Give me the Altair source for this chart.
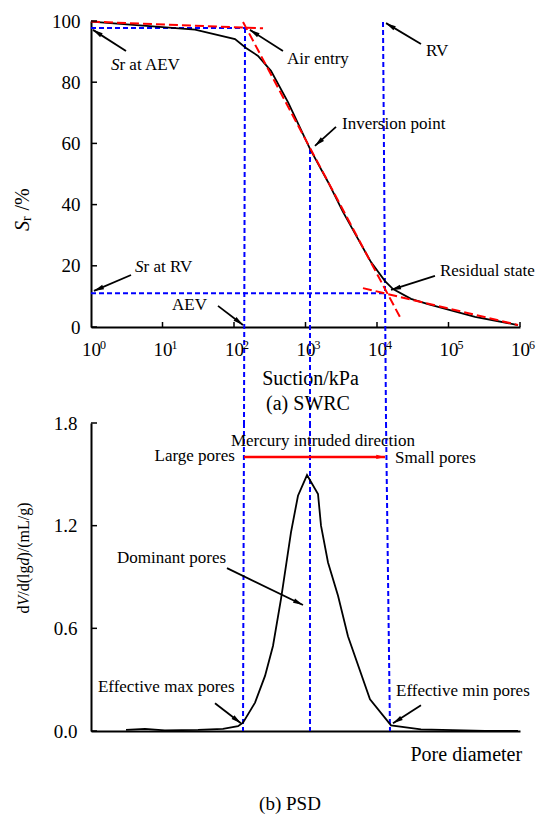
import math
import altair as alt
import pandas as pd

# ---------------- data ----------------
# SWRC (suction kPa, degree of saturation %)
suction = [1, 28.5, 103.3, 147.2, 216.8, 328.9, 568.9, 1156, 2065, 3342, 5420,
           8241, 12940, 16750, 29920, 51640, 235000, 937600]
sr = [99.8, 97.2, 94.1, 91.2, 88.6, 83.7, 73.5, 58.2, 47.4, 37.6, 28.8,
      21.2, 15.0, 12.4, 9.2, 7.5, 3.3, 0.65]

# red tangent lines
tan_id = ["sat", "sat", "desat", "desat", "res", "res"]
tan_x = [1, 254.7, 133.7, 21680, 6368, 937600]
tan_y = [99.8, 97.6, 99.7, 2.6, 12.7, 0.65]

# PSD (pore position on the shared log axis, dV/d(lgd))
pore_pos = [3.09, 5.69, 10.8, 31.4, 70.1, 113.8, 133.7, 196.8, 271.6, 350.8,
            453.9, 484.2, 626.6, 785.2, 1050, 1496, 1648, 2065, 2851, 3926,
            7980, 15700, 41210, 323600, 937600]
dv = [0.006, 0.012, 0.004, 0.006, 0.013, 0.028, 0.049, 0.166, 0.322, 0.497,
      0.771, 0.848, 1.161, 1.375, 1.496, 1.385, 1.200, 0.985, 0.790, 0.554,
      0.185, 0.033, 0.010, 0.001, 0.0]

# characteristic points
AEV_TOP, AEV_MID, AEV_BOT = 142.6, 138.0, 133.6
INV = 1156
RV_TOP, RV_MID, RV_BOT = 12130, 13370, 15200
RV_H = 12730
SR_AEV, SR_INV, SR_RV, SR_TOPLINE = 97.7, 58.2, 11.0, 99.7

x_ticks = [1, 10, 100, 1000, 10000, 100000, 1000000]
x_exps = ["0", "1", "2", "3", "4", "5", "6"]
y_ticks_top = [0, 20, 40, 60, 80, 100]
y_ticks_bot = [0.0, 0.6, 1.2, 1.8]

# annotations, top panel
top_arrow_x1 = [3.087, 484, 41220, 2670, 3.63, 59.7, 64700]
top_arrow_y1 = [90.2, 90.2, 92.5, 65.4, 17.0, 6.9, 16.7]
top_arrow_x2 = [1.066, 167, 13370, 1358, 1.10, 133.6, 15700]
top_arrow_y2 = [97.1, 97.1, 99.3, 59.2, 11.8, 0.65, 12.1]
top_labels = ["Air entry", "RV", "Inversion point", "AEV", "Residual state"]
top_label_x = [551, 48400, 3240, 13.6, 76000]
top_label_y = [87.6, 90.2, 66.3, 7.2, 18.3]
sr_label_rest = ["r at AEV", "r at RV"]
sr_label_x = [2.50, 5.42]
sr_label_y = [85.6, 19.6]

# annotations, bottom panel
bot_arrow_x1 = [79.8, 54.2, 41220]
bot_arrow_y1 = [0.952, 0.162, 0.150]
bot_arrow_x2 = [923, 125, 16750]
bot_arrow_y2 = [0.736, 0.045, 0.045]
red_arrow = {"x": [138.0], "y": [1.602], "x2": [12940], "y2": [1.602]}
bot_labels = ["Mercury intruded direction", "Large pores", "Small pores",
              "Dominant pores", "Effective max pores", "Effective min pores"]
bot_label_x = [1757, 103, 17860, 2.31, 1.25, 18450]
bot_label_y = [1.695, 1.607, 1.595, 1.011, 0.256, 0.232]
bot_label_align = ["center", "right", "left", "left", "left", "left"]

# ---------------- layout / style ----------------
W = 429
H_TOP = 306
H_BOT = 308
GAP = 96
FONT = "Liberation Serif"
BLUE = "#0000ff"
RED = "#ff0000"
ARROW = "M0,0L-0.6,2.5L0.6,2.5Z"
TICK = 5

GAP_TOP = -GAP / (H_TOP / 100.0)          # extends blue rules into the gap
TICK_X_LEN = 10 ** (6 * 6 / W)            # 6 px inward tick on log axis


def xs(v):
    return math.log10(v) / 6 * W


def head_angle(x1, y1, x2, y2, ymax, h):
    dx = xs(x2) - xs(x1)
    dy = -(y2 - y1) / ymax * h
    return math.degrees(math.atan2(dx, -dy)) % 360


X_SCALE = alt.Scale(type="log", domain=[1, 1e6], nice=False)
AX_TOP = alt.Axis(values=x_ticks, labelExpr="'10'", labelFlush=False,
                  labelOverlap=False, labelPadding=13, title="Suction/kPa",
                  titleX=219, titleY=51, titleBaseline="middle", titleAlign="center")
AX_BOT = alt.Axis(labels=False, title="Pore diameter", titleX=319, titleY=23,
                  titleAlign="left", titleBaseline="middle")
AY_TOP = alt.Axis(values=y_ticks_top, format="d", labelPadding=11, title=None)
AY_BOT = alt.Axis(values=y_ticks_bot, format=".1f", labelPadding=14, title=None)


def XT(f):
    return alt.X(f, type="quantitative", scale=X_SCALE, axis=AX_TOP)


def YT(f):
    return alt.Y(f, type="quantitative", scale=alt.Scale(domain=[0, 100], nice=False), axis=AY_TOP)


def XB(f):
    return alt.X(f, type="quantitative", scale=X_SCALE, axis=AX_BOT)


def YB(f):
    return alt.Y(f, type="quantitative", scale=alt.Scale(domain=[0, 1.8], nice=False), axis=AY_BOT)


def text(df, align="left", size=17, style="normal", **kw):
    return alt.Chart(df).mark_text(font=FONT, fontSize=size, align=align, baseline="middle",
                                   color="black", fontStyle=style, **kw)


# ---------------- top panel ----------------
swrc_df = pd.DataFrame({"s": suction, "sr": sr})
tan_df = pd.DataFrame({"id": tan_id, "s": tan_x, "sr": tan_y})
blue_top = pd.DataFrame({
    "x": [1, 1, AEV_TOP, INV, RV_TOP],
    "x2": [AEV_TOP, RV_H, AEV_MID, INV, RV_MID],
    "y": [SR_AEV, SR_RV, SR_AEV, SR_INV, SR_TOPLINE],
    "y2": [SR_AEV, SR_RV, GAP_TOP, GAP_TOP, GAP_TOP],
})
tick_top_x = pd.DataFrame({"x": x_ticks[1:], "y": 0.0, "y2": TICK / (H_TOP / 100.0)})
tick_top_y = pd.DataFrame({"y": y_ticks_top, "x": 1.0, "x2": TICK_X_LEN})
arr_top = pd.DataFrame({"x": top_arrow_x1, "y": top_arrow_y1, "x2": top_arrow_x2, "y2": top_arrow_y2})
arr_top["ang"] = [head_angle(a, b, c, d, 100, H_TOP) for a, b, c, d in
                  zip(top_arrow_x1, top_arrow_y1, top_arrow_x2, top_arrow_y2)]
lab_top = pd.DataFrame({"t": top_labels, "x": top_label_x, "y": top_label_y})
sr_lab = pd.DataFrame({"t": sr_label_rest, "s": "S", "x": sr_label_x, "y": sr_label_y})
exp_df = pd.DataFrame({"x": x_ticks, "e": x_exps, "y": 0.0})
cap_a = pd.DataFrame({"t": ["(a) SWRC"], "x": [1084], "y": [-25.2]})

top = alt.layer(
    alt.Chart(blue_top).mark_rule(color=BLUE, strokeDash=[5, 3], strokeWidth=2).encode(
        x=XT("x"), x2="x2", y=YT("y"), y2="y2"),
    alt.Chart(swrc_df).mark_line(color="black", strokeWidth=1.8).encode(x=XT("s"), y=YT("sr")),
    alt.Chart(tan_df).mark_line(color=RED, strokeDash=[9, 4], strokeWidth=2).encode(
        x=XT("s"), y=YT("sr"), detail="id:N"),
    alt.Chart(tick_top_x).mark_rule(color="black", strokeWidth=1.5).encode(
        x=XT("x"), y=YT("y"), y2="y2"),
    alt.Chart(tick_top_y).mark_rule(color="black", strokeWidth=1.5).encode(
        x=XT("x"), x2="x2", y=YT("y")),
    alt.Chart(arr_top).mark_rule(color="black", strokeWidth=1.8).encode(
        x=XT("x"), x2="x2", y=YT("y"), y2="y2"),
    alt.Chart(arr_top).mark_point(shape=ARROW, size=64, filled=True, color="black",
                                  opacity=1, strokeWidth=0).encode(
        x=XT("x2"), y=YT("y2"), angle=alt.Angle("ang:Q", scale=None)),
    text(lab_top).encode(x=XT("x"), y=YT("y"), text="t:N"),
    text(sr_lab, align="right", style="italic").encode(x=XT("x"), y=YT("y"), text="s:N"),
    text(sr_lab).encode(x=XT("x"), y=YT("y"), text="t:N"),
    text(exp_df, align="center", size=12, dx=12, dy=17.5).encode(x=XT("x"), y=YT("y"), text="e:N"),
    text(cap_a, align="center", size=20).encode(x=XT("x"), y=YT("y"), text="t:N"),
    text(pd.DataFrame({"t": ["S"]}), align="right", size=20, style="italic", angle=270).encode(
        x=alt.value(-68), y=alt.value(200), text="t:N"),
    text(pd.DataFrame({"t": ["r"]}), align="left", size=14, angle=270).encode(
        x=alt.value(-64), y=alt.value(200), text="t:N"),
    text(pd.DataFrame({"t": ["/%"]}), align="left", size=20, angle=270).encode(
        x=alt.value(-68), y=alt.value(189.5), text="t:N"),
).properties(width=W, height=H_TOP)

# ---------------- bottom panel ----------------
psd_df = pd.DataFrame({"p": pore_pos, "dv": dv})
blue_bot = pd.DataFrame({
    "x": [AEV_MID, INV, RV_MID], "x2": [AEV_BOT, INV, RV_BOT],
    "y": [1.8, 1.8, 1.8], "y2": [0.0, 0.0, 0.0],
})
tick_bot_y = pd.DataFrame({"y": y_ticks_bot, "x": 1.0, "x2": TICK_X_LEN})
arr_bot = pd.DataFrame({"x": bot_arrow_x1, "y": bot_arrow_y1, "x2": bot_arrow_x2, "y2": bot_arrow_y2})
arr_bot["ang"] = [head_angle(a, b, c, d, 1.8, H_BOT) for a, b, c, d in
                  zip(bot_arrow_x1, bot_arrow_y1, bot_arrow_x2, bot_arrow_y2)]
red_df = pd.DataFrame(red_arrow)
red_df["ang"] = [head_angle(red_arrow["x"][0], red_arrow["y"][0],
                            red_arrow["x2"][0], red_arrow["y2"][0], 1.8, H_BOT)]
lab_bot = pd.DataFrame({"t": bot_labels, "x": bot_label_x, "y": bot_label_y, "a": bot_label_align})
cap_b = pd.DataFrame({"t": ["(b) PSD"], "x": [607], "y": [-0.429]})

# y title pieces: dV/d(lgd)/(mL/g) with italic V and d
em = 16
pieces = [("d", False, 0.5), ("V", True, 0.611), ("/d(lg", False, 1.889),
          ("d", True, 0.5), (")/(mL/g)", False, 3.444)]
title_layers = []
pos = 190.5
for t, it, w in pieces:
    title_layers.append(
        text(pd.DataFrame({"t": [t]}), align="left", size=em,
             style="italic" if it else "normal", angle=270).encode(
            x=alt.value(-67), y=alt.value(pos), text="t:N"))
    pos -= w * em

bottom_layers = [
    alt.Chart(blue_bot).mark_rule(color=BLUE, strokeDash=[5, 3], strokeWidth=2).encode(
        x=XB("x"), x2="x2", y=YB("y"), y2="y2"),
    alt.Chart(psd_df).mark_line(color="black", strokeWidth=1.8).encode(x=XB("p"), y=YB("dv")),
    alt.Chart(tick_bot_y).mark_rule(color="black", strokeWidth=1.5).encode(
        x=XB("x"), x2="x2", y=YB("y")),
    alt.Chart(arr_bot).mark_rule(color="black", strokeWidth=1.8).encode(
        x=XB("x"), x2="x2", y=YB("y"), y2="y2"),
    alt.Chart(arr_bot).mark_point(shape=ARROW, size=64, filled=True, color="black",
                                  opacity=1, strokeWidth=0).encode(
        x=XB("x2"), y=YB("y2"), angle=alt.Angle("ang:Q", scale=None)),
    alt.Chart(red_df).mark_rule(color=RED, strokeWidth=2.5).encode(
        x=XB("x"), x2="x2", y=YB("y"), y2="y2"),
    alt.Chart(red_df).mark_point(shape=ARROW, size=49, filled=True, color=RED,
                                 opacity=1, strokeWidth=0).encode(
        x=XB("x2"), y=YB("y2"), angle=alt.Angle("ang:Q", scale=None)),
]
for al in ["left", "right", "center"]:
    sub = lab_bot[lab_bot["a"] == al]
    bottom_layers.append(text(sub, align=al).encode(x=XB("x"), y=YB("y"), text="t:N"))
bottom_layers.append(text(cap_b, align="center", size=19).encode(x=XB("x"), y=YB("y"), text="t:N"))
bottom_layers += title_layers

bottom = alt.layer(*bottom_layers).properties(width=W, height=H_BOT)

chart = alt.vconcat(top, bottom, spacing=GAP, bounds="flush").properties(
    padding={"left": 13, "top": 12, "right": 5, "bottom": 5}
).configure_view(stroke=None).configure_axis(
    labelFont=FONT, titleFont=FONT, labelFontSize=19, titleFontSize=20,
    labelColor="black", titleColor="black", domainColor="black", domainWidth=2,
    ticks=False, grid=False, titleFontWeight="normal"
)

chart.save("out.html", embed_options={"renderer": "svg", "actions": False})
